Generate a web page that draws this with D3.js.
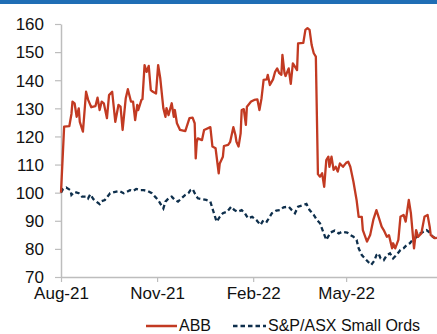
<!DOCTYPE html>
<html>
<head>
<meta charset="utf-8">
<script src="https://cdn.jsdelivr.net/npm/d3@7"></script>
<style>
  html, body { margin: 0; padding: 0; background: #fff; }
  svg { display: block; font-family: "Liberation Sans", Arial, sans-serif; }
</style>
</head>
<body>
<svg id="chart" width="437" height="334"></svg>
<script>
// ABB share price vs S&P/ASX Small Ordinaries, rebased to 100
const abbDates = [
  "2021-08-01","2021-08-04","2021-08-09","2021-08-11","2021-08-12","2021-08-14","2021-08-16","2021-08-18","2021-08-19","2021-08-22",
  "2021-08-25","2021-08-27","2021-08-30","2021-09-03","2021-09-05","2021-09-07","2021-09-09","2021-09-11","2021-09-14","2021-09-16",
  "2021-09-19","2021-09-22","2021-09-25","2021-09-27","2021-09-29","2021-10-02","2021-10-04","2021-10-07","2021-10-09","2021-10-11",
  "2021-10-13","2021-10-14","2021-10-17","2021-10-18","2021-10-20","2021-10-22","2021-10-24","2021-10-26","2021-10-28","2021-10-31",
  "2021-11-02","2021-11-04","2021-11-07","2021-11-09","2021-11-10","2021-11-12","2021-11-15","2021-11-17","2021-11-18","2021-11-20",
  "2021-11-23","2021-11-28","2021-12-02","2021-12-05","2021-12-07","2021-12-08","2021-12-09","2021-12-10","2021-12-14","2021-12-16",
  "2021-12-22","2021-12-24","2021-12-27","2021-12-30","2021-12-31","2022-01-03","2022-01-04","2022-01-08","2022-01-10","2022-01-13",
  "2022-01-15","2022-01-16","2022-01-18","2022-01-20","2022-01-21","2022-01-23","2022-01-25","2022-01-26","2022-01-30","2022-02-02",
  "2022-02-05","2022-02-07","2022-02-09","2022-02-11","2022-02-14","2022-02-15","2022-02-17","2022-02-20","2022-02-22","2022-02-24",
  "2022-02-26","2022-02-28","2022-03-01","2022-03-03","2022-03-04","2022-03-07","2022-03-09","2022-03-11","2022-03-13","2022-03-15",
  "2022-03-16","2022-03-21","2022-03-23","2022-03-25","2022-03-27","2022-03-29","2022-03-31","2022-04-02","2022-04-04","2022-04-06",
  "2022-04-08","2022-04-10","2022-04-12","2022-04-14","2022-04-15","2022-04-17","2022-04-19","2022-04-21","2022-04-23","2022-04-25",
  "2022-04-28","2022-05-01","2022-05-03","2022-05-05","2022-05-08","2022-05-11","2022-05-13","2022-05-16","2022-05-17","2022-05-21",
  "2022-05-24","2022-05-27","2022-05-30","2022-06-02","2022-06-04","2022-06-06","2022-06-09","2022-06-11","2022-06-14","2022-06-15",
  "2022-06-17","2022-06-20","2022-06-22","2022-06-25","2022-06-27","2022-06-30","2022-07-02","2022-07-05","2022-07-07","2022-07-09",
  "2022-07-12","2022-07-15","2022-07-18","2022-07-20","2022-07-21","2022-07-25","2022-07-27"
];
const abbValues = [
  100.0,123.5,123.7,128.0,132.4,131.8,127.0,130.0,125.2,121.7,
  135.9,133.0,130.4,130.8,133.8,129.4,132.4,131.8,126.5,134.7,
  135.9,125.2,131.2,130.6,122.3,133.6,136.8,132.4,132.4,125.8,
  131.2,129.4,133.0,133.3,145.4,143.0,145.1,136.5,135.9,135.3,
  145.4,140.8,130.0,127.0,130.1,127.6,131.8,127.0,129.4,124.7,
  122.3,121.9,126.5,126.7,124.7,112.2,118.1,119.3,118.7,122.3,
  123.3,116.4,115.8,106.9,110.4,112.8,116.6,117.0,118.1,123.3,
  120.5,118.1,116.4,121.1,129.4,129.7,124.1,130.6,132.4,133.0,
  133.2,129.4,133.6,140.1,140.3,141.9,138.3,140.3,143.0,144.2,
  142.5,141.9,149.0,142.5,141.5,144.2,138.7,146.0,144.8,143.6,
  153.1,153.3,157.9,158.5,157.9,152.5,149.6,148.4,106.6,105.7,
  106.9,102.1,111.6,112.8,109.2,112.8,108.1,109.2,107.5,110.4,
  109.2,110.6,111.0,109.2,103.9,97.4,91.4,91.4,86.7,82.6,
  84.9,90.3,93.8,90.3,87.9,86.7,84.3,84.9,80.2,82.0,
  80.2,83.2,91.4,92.1,89.7,97.4,92.7,80.2,86.7,84.3,
  85.5,91.4,92.1,87.9,84.9,83.8,83.9
];

const smallOrdsDates = [
  "2021-08-01","2021-08-03","2021-08-06","2021-08-10","2021-08-11","2021-08-14","2021-08-18","2021-08-21","2021-08-26","2021-08-27",
  "2021-08-29","2021-09-01","2021-09-04","2021-09-07","2021-09-09","2021-09-12","2021-09-17","2021-09-22","2021-09-26","2021-09-30",
  "2021-10-03","2021-10-06","2021-10-09","2021-10-12","2021-10-16","2021-10-19","2021-10-23","2021-10-27","2021-10-30","2021-11-02",
  "2021-11-05","2021-11-07","2021-11-09","2021-11-12","2021-11-15","2021-11-18","2021-11-21","2021-11-25","2021-11-28","2021-12-01",
  "2021-12-03","2021-12-05","2021-12-07","2021-12-10","2021-12-14","2021-12-18","2021-12-22","2021-12-25","2021-12-28","2021-12-31",
  "2022-01-03","2022-01-07","2022-01-11","2022-01-14","2022-01-17","2022-01-21","2022-01-24","2022-01-27","2022-01-31","2022-02-04",
  "2022-02-08","2022-02-11","2022-02-14","2022-02-19","2022-02-23","2022-02-27","2022-03-02","2022-03-07","2022-03-10","2022-03-13",
  "2022-03-16","2022-03-21","2022-03-24","2022-03-27","2022-03-31","2022-04-03","2022-04-06","2022-04-09","2022-04-12","2022-04-16",
  "2022-04-20","2022-04-24","2022-04-27","2022-05-02","2022-05-05","2022-05-08","2022-05-11","2022-05-13","2022-05-16","2022-05-19",
  "2022-05-22","2022-05-25","2022-05-28","2022-05-30","2022-06-01","2022-06-03","2022-06-06","2022-06-09","2022-06-12","2022-06-15",
  "2022-06-18","2022-06-22","2022-06-25","2022-06-28","2022-07-01","2022-07-04","2022-07-08","2022-07-11","2022-07-14","2022-07-17",
  "2022-07-20","2022-07-23","2022-07-27"
];
const smallOrdsValues = [
  100.0,101.3,101.8,100.9,99.2,100.3,99.8,98.6,98.6,98.0,
  99.4,97.7,96.8,95.9,97.0,97.4,99.8,100.3,100.6,99.8,
  100.3,100.9,100.6,101.3,100.9,100.9,100.6,99.8,98.6,97.4,
  95.6,94.4,96.8,98.0,98.6,97.4,96.8,98.2,99.2,99.8,
  100.9,101.3,99.8,98.0,97.7,97.4,96.8,93.2,89.7,91.4,
  92.7,93.2,95.0,93.8,93.2,93.8,92.7,90.9,91.4,90.3,
  88.5,90.3,89.7,92.7,93.6,93.8,94.8,95.0,93.8,92.7,
  95.0,95.6,96.0,93.8,92.1,90.3,89.1,86.1,83.2,85.8,
  86.5,85.5,86.1,85.8,84.9,84.3,83.2,80.2,77.8,76.6,
  75.4,74.3,75.8,77.8,78.4,76.6,76.0,77.8,78.4,76.6,
  77.8,79.6,80.2,81.4,82.0,83.4,84.3,85.5,86.1,86.7,
  85.8,84.3,83.4
];

const yTicks = [70, 80, 90, 100, 110, 120, 130, 140, 150, 160];
const xTickDates = ["2021-08-01", "2021-11-01", "2022-02-01", "2022-05-01"];
const xDomain = ["2021-08-01", "2022-07-27"];
const seriesNames = ["ABB", "S&P/ASX Small Ords"];

const parse = d3.timeParse("%Y-%m-%d");
const abb = abbDates.map((d, i) => ({ date: parse(d), value: abbValues[i] }));
const smallOrds = smallOrdsDates.map((d, i) => ({ date: parse(d), value: smallOrdsValues[i] }));

const svg = d3.select("#chart");
const W = 437;
const plotLeft = 61, plotRight = 437, plotTop = 24, plotBottom = 277;

const red = "#C23A22";
const navy = "#0E2F4C";
const axisGrey = "#BDBDBD";

// header rule
svg.append("rect").attr("x", 0).attr("y", 0).attr("width", W).attr("height", 4).attr("fill", "#1F6EB5");

const x = d3.scaleTime().domain(xDomain.map(parse)).range([plotLeft, plotRight]);
const y = d3.scaleLinear().domain([70, 160]).range([plotBottom, plotTop]);

// y axis
const yAxis = svg.append("g")
  .attr("transform", `translate(${plotLeft},0)`)
  .call(d3.axisLeft(y).tickValues(yTicks).tickSize(6).tickSizeOuter(0).tickPadding(11).tickFormat(d3.format("d")));
yAxis.select(".domain").attr("stroke", axisGrey).attr("stroke-width", 1.5);
yAxis.selectAll(".tick line").attr("stroke", axisGrey).attr("stroke-width", 1.2);
yAxis.selectAll(".tick text").attr("fill", "#111").style("font-size", "17px").attr("dy", "0.34em");

// x axis
const xAxis = svg.append("g")
  .attr("transform", `translate(0,${plotBottom})`)
  .call(d3.axisBottom(x).tickValues(xTickDates.map(parse)).tickSize(5).tickSizeOuter(0).tickPadding(5).tickFormat(d3.timeFormat("%b-%y")));
xAxis.select(".domain").attr("stroke", axisGrey).attr("stroke-width", 1.5);
xAxis.selectAll(".tick line").attr("stroke", axisGrey).attr("stroke-width", 1.2);
xAxis.selectAll(".tick text").attr("fill", "#111").style("font-size", "17px");

const line = d3.line().x(d => x(d.date)).y(d => y(d.value));

svg.append("path")
  .datum(smallOrds)
  .attr("d", line)
  .attr("fill", "none")
  .attr("stroke", navy)
  .attr("stroke-width", 2.3)
  .attr("stroke-dasharray", "4.5,3");

svg.append("path")
  .datum(abb)
  .attr("d", line)
  .attr("fill", "none")
  .attr("stroke", red)
  .attr("stroke-width", 2.3)
  .attr("stroke-linejoin", "round");

// legend
const legend = svg.append("g").style("font-size", "16px").attr("fill", "#111");
const legendItems = [
  { name: seriesNames[0], x0: 146, x1: 177, color: red, dash: null },
  { name: seriesNames[1], x0: 233, x1: 266, color: navy, dash: "4.5,3" }
];
legendItems.forEach(it => {
  legend.append("line")
    .attr("x1", it.x0).attr("x2", it.x1).attr("y1", 326).attr("y2", 326)
    .attr("stroke", it.color).attr("stroke-width", 2.5)
    .attr("stroke-dasharray", it.dash);
  legend.append("text").attr("x", it.x1 + 2).attr("y", 331).text(it.name);
});
</script>
</body>
</html>
